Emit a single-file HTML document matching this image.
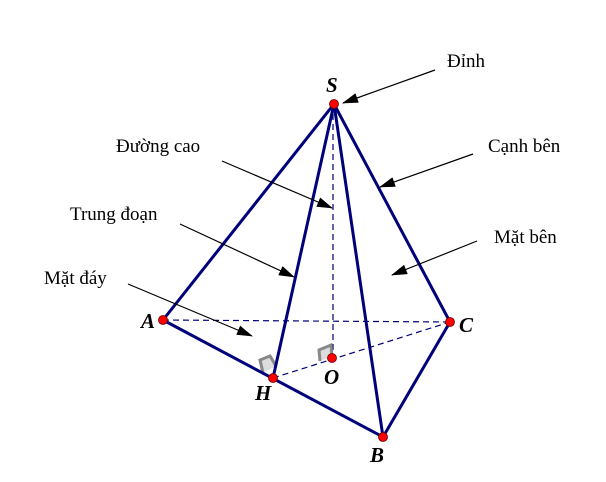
<!DOCTYPE html>
<html><head><style>body{margin:0;background:#fff}svg{display:block}</style></head><body>
<svg width="606" height="482" xmlns="http://www.w3.org/2000/svg">
<defs><marker id="ar" markerWidth="16" markerHeight="10" refX="15" refY="5" orient="auto" markerUnits="userSpaceOnUse"><path d="M0,0 L16,5 L0,10 Z" fill="#000"/></marker></defs>
<g stroke="#00007a" stroke-width="1.2" stroke-dasharray="6,4" fill="none">
<line x1="163" y1="320" x2="450" y2="322"/>
<line x1="273" y1="378" x2="450" y2="322"/>
<line x1="333" y1="104" x2="333" y2="358"/>
</g>
<path d="M263,373 L260,360 L270,356 L276,366" fill="#ddd" stroke="#888" stroke-width="3"/>
<path d="M320,361 L319,350 L331,345 L332,357" fill="#ddd" stroke="#888" stroke-width="3"/>
<g stroke="#00007a" stroke-width="3" fill="none" stroke-linejoin="round">
<path d="M163,320 L334,104 L450,322 L383,437 Z"/>
<line x1="334" y1="104" x2="383" y2="437"/>
<line x1="334" y1="104" x2="273" y2="378"/>
</g>
<g stroke="#000" stroke-width="1.2" marker-end="url(#ar)">
<line x1="435" y1="70" x2="343" y2="103"/>
<line x1="473" y1="154" x2="380" y2="187"/>
<line x1="222" y1="161" x2="332" y2="208"/>
<line x1="180" y1="224" x2="294" y2="277"/>
<line x1="477" y1="241" x2="392" y2="275"/>
<line x1="128" y1="284" x2="252" y2="336"/>
</g>
<g fill="red" stroke="#600" stroke-width="0.8">
<circle cx="334" cy="104" r="4.5"/><circle cx="163" cy="320" r="4.5"/><circle cx="450" cy="322" r="4.5"/>
<circle cx="383" cy="437" r="4.5"/><circle cx="273" cy="378" r="4.5"/><circle cx="332" cy="358" r="4.5"/>
</g>
<g font-family="Liberation Serif,serif" font-size="21" font-weight="bold" font-style="italic">
<text x="326" y="92">S</text><text x="141" y="328">A</text><text x="459" y="332">C</text>
<text x="370" y="462">B</text><text x="255" y="400">H</text><text x="324" y="384">O</text>
</g>
<g font-family="Liberation Serif,serif" font-size="19">
<text x="447" y="67">Đỉnh</text><text x="488" y="152">Cạnh bên</text><text x="116" y="152">Đường cao</text>
<text x="70" y="220">Trung đoạn</text><text x="494" y="243">Mặt bên</text><text x="44" y="284">Mặt đáy</text>
</g>
</svg>
</body></html>
